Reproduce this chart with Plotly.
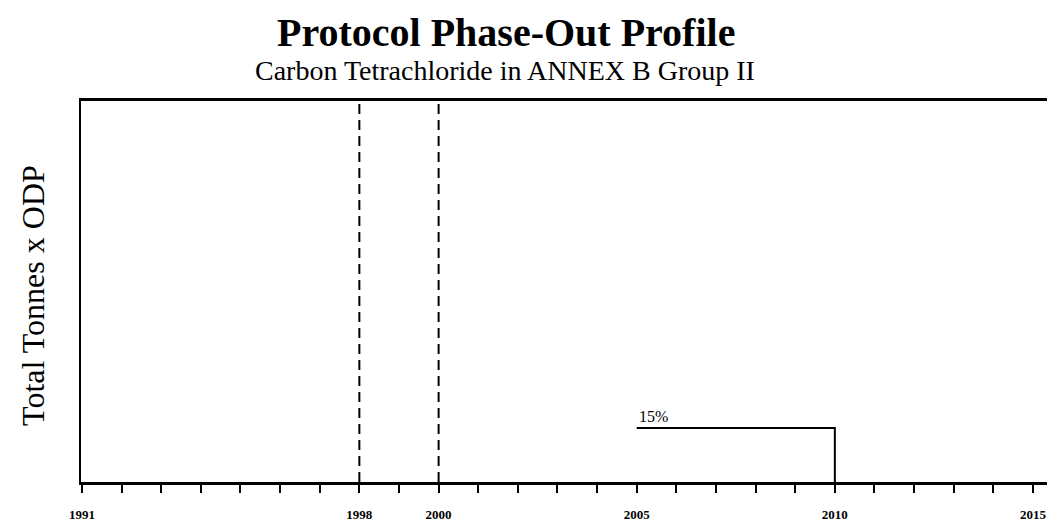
import plotly.graph_objects as go

# Data
step_years = [2005, 2010, 2010]
step_values = [15, 15, 0]
marker_years = [1998, 2000]
label_text = "15%"
tick_years = list(range(1991, 2016))
labeled_years = [1991, 1998, 2000, 2005, 2010, 2015]
tick_text = [str(y) if y in labeled_years else "" for y in tick_years]

fig = go.Figure()

for yr in marker_years:
    fig.add_trace(go.Scatter(x=[yr, yr], y=[0, 106], mode="lines",
                             line=dict(color="black", width=2, dash="10px,6px"),
                             showlegend=False, hoverinfo="skip"))

fig.add_trace(go.Scatter(x=step_years, y=step_values, mode="lines",
                         line=dict(color="black", width=2), showlegend=False))

serif = "Liberation Serif"
fig.add_annotation(x=step_years[0], y=step_values[0], xref="x", yref="y",
                   text=label_text, showarrow=False, xanchor="left", yanchor="bottom",
                   yshift=1, font=dict(family=serif, size=16, color="black"))

fig.add_annotation(x=0.44, y=1.181, xref="paper", yref="paper",
                   xanchor="center", yanchor="middle",
                   text="<b>Protocol Phase-Out Profile</b>", showarrow=False,
                   font=dict(family=serif, size=40, color="black"))
fig.add_annotation(x=0.439, y=1.081, xref="paper", yref="paper",
                   xanchor="center", yanchor="middle",
                   text="Carbon Tetrachloride in ANNEX B Group II", showarrow=False,
                   font=dict(family=serif, size=28, color="black"))
fig.add_annotation(x=-0.0497, y=0.491, xref="paper", yref="paper",
                   xanchor="center", yanchor="middle",
                   text="Total Tonnes x ODP", showarrow=False, textangle=-90,
                   font=dict(family=serif, size=32, color="black"))

fig.update_xaxes(range=[1990.975, 2015.354], tickvals=tick_years, ticktext=tick_text,
                 ticks="outside", ticklen=8, tickwidth=2, tickcolor="black",
                 ticklabelstandoff=10, ticklabeloverflow="allow", automargin=False,
                 showline=True, linecolor="black", linewidth=3, mirror=True,
                 showgrid=False, zeroline=False,
                 tickfont=dict(family=serif, size=13, color="black", weight="bold"))
fig.update_yaxes(range=[0, 106], showticklabels=False, ticks="", automargin=False,
                 showline=True, linecolor="black", linewidth=2,
                 showgrid=False, zeroline=False)

fig.update_layout(width=1047, height=522, margin=dict(l=81, r=0, t=101, b=40),
                  plot_bgcolor="white", paper_bgcolor="white")

fig.write_html("out.html", config={"displayModeBar": False},
               post_script="document.body.style.margin='0px';")
